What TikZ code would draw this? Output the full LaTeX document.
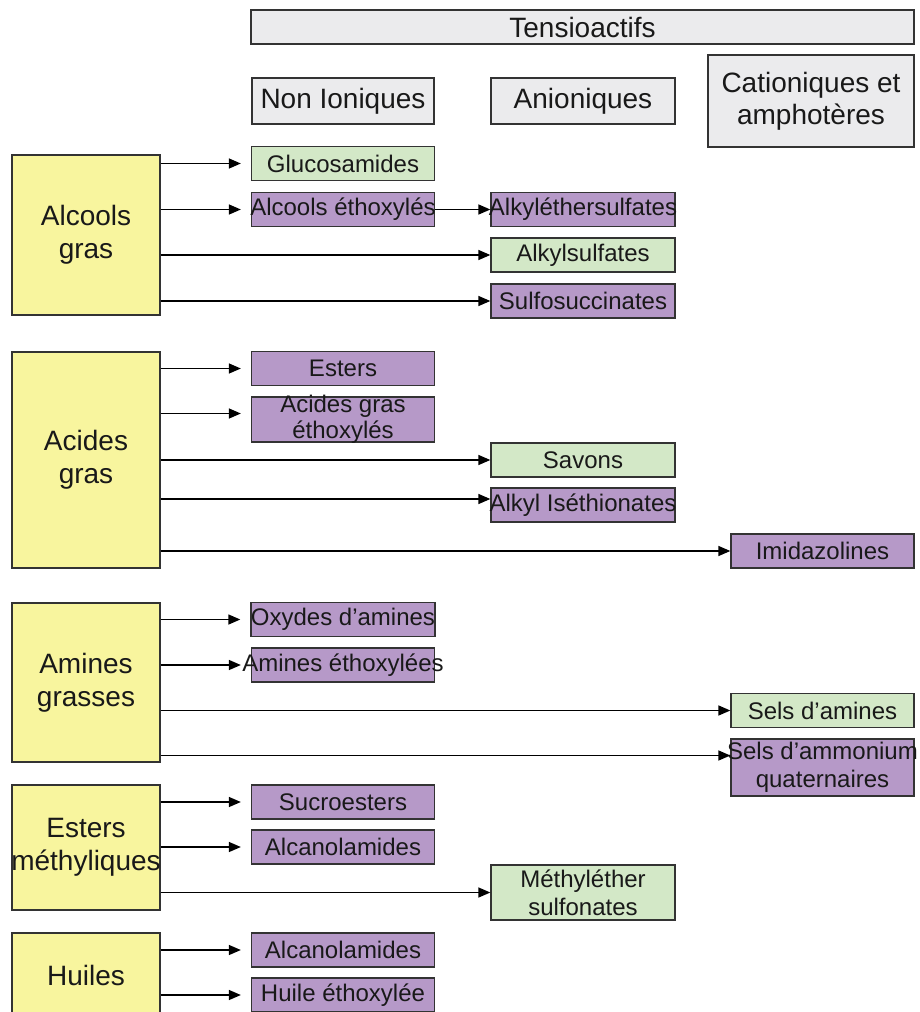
\documentclass[tikz,border=0pt]{standalone}
\usepackage{fontspec}
\setmainfont{Liberation Sans}
\usepackage{tikz}
\usetikzlibrary{shapes,arrows.meta}
\definecolor{srcyellow}{RGB}{248,245,158}
\definecolor{nigreen}{RGB}{211,232,199}
\definecolor{anpurple}{RGB}{182,153,200}
\definecolor{hdgrey}{RGB}{235,235,237}
\newcommand{\wide}[1]{\makebox[0pt]{#1}}

\begin{document}
\begin{tikzpicture}[x=1pt,y=-1pt,
  box/.style={draw=black!80,line width=1.3pt,inner sep=0pt,align=center,text=black!90},
  hdr/.style={box,fill=hdgrey,font=\fontsize{28}{32}\selectfont},
  src/.style={box,fill=srcyellow,minimum width=148,font=\fontsize{28}{33}\selectfont},
  prod/.style={box,minimum width=183,minimum height=34,font=\fontsize{24}{28}\selectfont},
  gr/.style={prod,fill=nigreen},
  pu/.style={prod,fill=anpurple},
  flow/.style={-{Triangle[length=12pt,width=10pt]},line width=1.4pt},
  gap/.style={flow,shorten >=10pt}]
\useasboundingbox (0,0) rectangle (919,1012);
\clip (0,0) rectangle (919,1012);
% en-tetes
\node[hdr,minimum width=663,minimum height=34] (tens) at (582.5,27) {Tensioactifs};
\node[hdr,minimum width=182,minimum height=46] (noni) at (343,101) {Non Ioniques};
\node[hdr,minimum width=184,minimum height=46] (anio) at (583,101) {Anioniques};
\node[hdr,minimum width=206,minimum height=92] (cati) at (811,101) {Cationiques et\\amphotères};
% matieres premieres
\node[src,minimum height=160] (alc) at (86,235) {Alcools\\gras};
\node[src,minimum height=216] (aci) at (86,460) {Acides\\gras};
\node[src,minimum height=159] (ami) at (86,682.5) {Amines\\grasses};
\node[src,minimum height=125] (est) at (86,847.5) {Esters\\\wide{méthyliques}};
\node[src,minimum height=84] (hui) at (86,975) {Huiles};
% non ioniques
\node[gr] (gluc) at (343,163.5) {Glucosamides};
\node[pu] (alce) at (343,209.5) {\wide{Alcools éthoxylés}};
\node[pu] (este) at (343,368.5) {Esters};
\node[pu,minimum height=45,inner ysep=-3pt,font=\fontsize{24}{26}\selectfont] (agex) at (343,419.5) {Acides gras\\éthoxylés};
\node[pu] (oxam) at (343,619.5) {Oxydes d’amines};
\node[pu] (amex) at (343,665) {\wide{Amines éthoxylées}};
\node[pu] (sucr) at (343,802) {Sucroesters};
\node[pu] (alca) at (343,847) {Alcanolamides};
\node[pu] (alcb) at (343,950) {Alcanolamides};
\node[pu] (huie) at (343,995) {Huile éthoxylée};
% anioniques
\node[pu,minimum width=184] (alke) at (583,209.5) {\wide{Alkyléthersulfates}};
\node[gr,minimum width=184] (alks) at (583,255) {Alkylsulfates};
\node[pu,minimum width=184] (sulf) at (583,301) {Sulfosuccinates};
\node[gr,minimum width=184] (savo) at (583,460) {Savons};
\node[pu,minimum width=184] (alki) at (583,505) {\wide{Alkyl Iséthionates}};
\node[gr,minimum width=184,minimum height=55] (mets) at (583,892.5) {Méthyléther\\sulfonates};
% cationiques et amphoteres
\node[pu] (imid) at (822.5,551) {Imidazolines};
\node[gr] (sela) at (822.5,710.5) {Sels d’amines};
\node[pu,minimum height=57] (selq) at (822.5,767.5) {\wide{Sels d’ammonium}\\quaternaires};
\coordinate (agexin) at ([yshift=6pt]agex.west);
\coordinate (alkiin) at ([yshift=6pt]alki.west);
\coordinate (selqin) at ([yshift=12pt]selq.west);
% fleches
\draw[gap] (alc.east |- gluc.west) -- (gluc.west);
\draw[gap] (alc.east |- alce.west) -- (alce.west);
\draw[flow] (alce.east) -- (alke.west);
\draw[flow] (alc.east |- alks.west) -- (alks.west);
\draw[flow] (alc.east |- sulf.west) -- (sulf.west);
\draw[gap] (aci.east |- este.west) -- (este.west);
\draw[gap] (aci.east |- agexin) -- (agexin);
\draw[flow] (aci.east |- savo.west) -- (savo.west);
\draw[flow] (aci.east |- alkiin) -- (alkiin);
\draw[flow] (aci.east |- imid.west) -- (imid.west);
\draw[gap] (ami.east |- oxam.west) -- (oxam.west);
\draw[gap] (ami.east |- amex.west) -- (amex.west);
\draw[flow] (ami.east |- sela.west) -- (sela.west);
\draw[flow] (ami.east |- selqin) -- (selqin);
\draw[gap] (est.east |- sucr.west) -- (sucr.west);
\draw[gap] (est.east |- alca.west) -- (alca.west);
\draw[flow] (est.east |- mets.west) -- (mets.west);
\draw[gap] (hui.east |- alcb.west) -- (alcb.west);
\draw[gap] (hui.east |- huie.west) -- (huie.west);
\end{tikzpicture}
\end{document}
